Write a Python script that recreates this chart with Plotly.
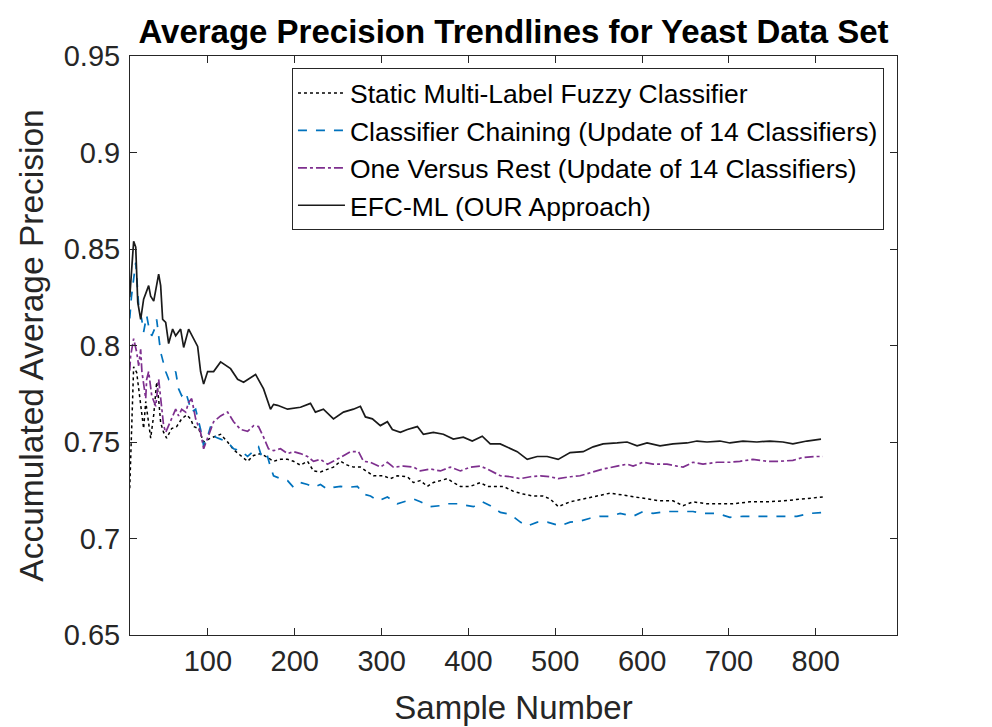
import plotly.graph_objects as go

# ---- data ----
static_x = [10, 12, 14.5, 18, 20.3, 22.6, 26, 28.4, 29.5, 31.8, 34.1, 37.6, 41, 43.3, 45.6, 49, 52.5, 58.3, 64, 69.8,
            75.5, 80.1, 83.6, 89.3, 95.1, 103, 114.6, 122.7, 129.6, 137.6, 145.7, 152.6, 160.6, 168.7, 175.6, 183.6,
            191.7, 198.6, 206.6, 214.7, 221.6, 229.6, 237.7, 244.6, 252.7, 260.7, 267.6, 275.6, 283.7, 290.6, 302.1,
            310.2, 318.2, 329.7, 336.6, 344.7, 352.7, 359.6, 367.7, 375.8, 382.6, 390.7, 402.2, 413.7, 421.7, 428.6,
            440.1, 451.6, 463.1, 474.6, 486.1, 494.1, 503.5, 517.1, 532.1, 548.2, 563.1, 578.1, 594.2, 609.1, 620.6,
            635.6, 647.2, 658.6, 674.7, 689.6, 704.6, 724.2, 743.7, 762.1, 781.6, 796.6, 808]
static_y = [0.726, 0.760, 0.789, 0.786, 0.777, 0.769, 0.757, 0.771, 0.767, 0.758, 0.752, 0.764, 0.781, 0.772, 0.760,
            0.755, 0.752, 0.757, 0.758, 0.762, 0.764, 0.762, 0.758, 0.757, 0.750, 0.752, 0.754, 0.750, 0.746, 0.743,
            0.740, 0.743, 0.744, 0.742, 0.740, 0.741, 0.741, 0.740, 0.738, 0.740, 0.735, 0.7345, 0.736, 0.737, 0.740,
            0.738, 0.737, 0.737, 0.7345, 0.7325, 0.7325, 0.731, 0.7325, 0.732, 0.729, 0.730, 0.727, 0.729, 0.730,
            0.731, 0.729, 0.727, 0.727, 0.729, 0.727, 0.727, 0.727, 0.7245, 0.723, 0.722, 0.722, 0.7205, 0.7165,
            0.719, 0.7205, 0.722, 0.7235, 0.7225, 0.7215, 0.7205, 0.7195, 0.7195, 0.717, 0.719, 0.718, 0.718, 0.718,
            0.719, 0.719, 0.7195, 0.7205, 0.721, 0.7215]

cc_x = [10, 12, 16.9, 20.3, 23.8, 26, 29.5, 31.8, 35.3, 39.9, 41, 43.3, 45.6, 46.8, 51.4, 54.8, 58.3, 62.9, 66.3,
        69.8, 74.4, 77.8, 81.3, 85.9, 91.6, 95.1, 99.7, 103.1, 108.9, 114.6, 122.7, 129.6, 137.6, 145.7, 152.6,
        158.3, 162.9, 168.7, 172.1, 175.6, 183.6, 191.7, 198.6, 206.6, 214.7, 221.6, 229.6, 237.7, 244.6, 252.7,
        260.7, 272.2, 279.1, 287.2, 296.4, 306.7, 318.2, 325.1, 336.6, 344.7, 356.2, 367.7, 375.8, 387.3, 398.8,
        405.7, 416.1, 425.3, 436.8, 448.3, 459.8, 467.9, 479.4, 490.9, 505.6, 517.1, 528.6, 540.1, 551.6, 563.1,
        574.6, 589.6, 601.1, 612.6, 628.7, 643.6, 658.6, 670.1, 686.2, 701.1, 716.1, 732.2, 747.1, 762.1, 778.2,
        793.1, 808]
cc_y = [0.814, 0.8255, 0.843, 0.8205, 0.8135, 0.807, 0.8155, 0.810, 0.805, 0.810, 0.8135, 0.8035, 0.7965, 0.7945,
        0.7865, 0.7825, 0.784, 0.7865, 0.7775, 0.774, 0.776, 0.7705, 0.7655, 0.767, 0.7565, 0.748, 0.753, 0.758,
        0.7525, 0.7515, 0.750, 0.7465, 0.7455, 0.7425, 0.7455, 0.7475, 0.741, 0.7425, 0.737, 0.7325, 0.731, 0.730,
        0.7265, 0.729, 0.728, 0.7265, 0.728, 0.7255, 0.7265, 0.727, 0.7265, 0.727, 0.723, 0.722, 0.7195, 0.7215,
        0.718, 0.719, 0.7205, 0.719, 0.7165, 0.717, 0.718, 0.718, 0.717, 0.7165, 0.719, 0.717, 0.7135, 0.7125,
        0.7085, 0.7065, 0.7085, 0.7085, 0.7065, 0.7085, 0.709, 0.7105, 0.7115, 0.7115, 0.713, 0.7115, 0.714, 0.713,
        0.714, 0.714, 0.714, 0.713, 0.713, 0.711, 0.7115, 0.7115, 0.7115, 0.7115, 0.7115, 0.713, 0.7135]

ovr_x = [10, 11, 14.5, 18, 20.3, 22.6, 24, 28.4, 29.5, 31.8, 35.3, 39.9, 43.3, 45.6, 49, 51.4, 54.8, 62.9, 66.3,
         69.8, 74.4, 77.8, 81.3, 85.9, 91.6, 95.1, 106.6, 114.6, 122.7, 129.6, 137.6, 145.7, 152.6, 158.3, 164.1,
         169.8, 175.6, 183.6, 191.7, 198.6, 206.6, 214.7, 221.6, 229.6, 237.7, 244.6, 252.7, 264.2, 273.4, 279.1,
         287.2, 298.7, 306.7, 313.6, 325.1, 336.6, 344.7, 356.2, 367.7, 379.2, 390.7, 402.2, 413.7, 421.7, 428.6,
         436.8, 448.3, 459.8, 471.3, 482.8, 494.1, 503.5, 517.1, 528.6, 543.6, 555.1, 571.2, 582.7, 589.6, 601.1,
         612.6, 628.7, 640.2, 647.2, 658.6, 670.1, 686.2, 701.1, 712.6, 727.6, 743.7, 758.6, 773.6, 785.1, 801.2, 808]
ovr_y = [0.787, 0.7945, 0.8035, 0.7965, 0.7895, 0.798, 0.7865, 0.7725, 0.7825, 0.7865, 0.774, 0.7685, 0.7825,
         0.7725, 0.7585, 0.755, 0.7585, 0.767, 0.7635, 0.767, 0.7655, 0.7705, 0.7725, 0.762, 0.755, 0.7465, 0.7605,
         0.7635, 0.7655, 0.7605, 0.7565, 0.7555, 0.7585, 0.758, 0.7525, 0.7465, 0.7455, 0.7465, 0.744, 0.745, 0.744,
         0.7425, 0.740, 0.741, 0.7385, 0.740, 0.742, 0.745, 0.745, 0.740, 0.7395, 0.737, 0.7395, 0.737, 0.7375,
         0.737, 0.735, 0.736, 0.735, 0.737, 0.735, 0.737, 0.7375, 0.736, 0.7345, 0.7325, 0.732, 0.731, 0.732,
         0.7325, 0.732, 0.731, 0.732, 0.7325, 0.7345, 0.736, 0.7375, 0.7385, 0.7375, 0.7395, 0.7385, 0.7385,
         0.7375, 0.737, 0.7395, 0.7385, 0.7395, 0.7395, 0.740, 0.741, 0.740, 0.740, 0.7405, 0.742, 0.7425, 0.7425]

efc_x = [10, 12, 14.5, 16.9, 19.2, 22.6, 26, 31.8, 34.1, 37.6, 43.3, 45.6, 47.9, 51.4, 54.8, 59.4, 62.9, 68.6, 72.1,
         77.8, 82.4, 88.2, 91.6, 95.1, 99.7, 106.6, 114.6, 120.4, 126.1, 134.2, 141.1, 154.9, 158.3, 164.1, 172.1,
         175.6, 180.2, 191.7, 206.6, 218.1, 223.8, 233, 244.6, 256.1, 267.6, 275.6, 281.4, 289.4, 298.6, 306.7,
         312.4, 321.6, 329.7, 341.2, 348.1, 359.6, 371.1, 382.6, 394.1, 404.4, 415.9, 425.1, 436.6, 448.1, 456.2,
         467.7, 479.2, 490.7, 503.3, 517.1, 532.1, 543.6, 555.1, 571.2, 582.7, 594.2, 605.7, 620.6, 635.6, 651.7,
         663.2, 674.7, 689.6, 701.1, 716.1, 732.2, 747.1, 762.1, 773.6, 789.7, 806]
efc_y = [0.825, 0.838, 0.854, 0.851, 0.8225, 0.8135, 0.824, 0.831, 0.8255, 0.823, 0.837, 0.831, 0.8135, 0.812,
         0.801, 0.8085, 0.805, 0.8085, 0.799, 0.8085, 0.8045, 0.7995, 0.7865, 0.780, 0.7865, 0.7865, 0.7915, 0.7895,
         0.788, 0.7825, 0.781, 0.785, 0.7825, 0.7775, 0.767, 0.7695, 0.769, 0.767, 0.768, 0.770, 0.7655, 0.767,
         0.762, 0.7655, 0.767, 0.7685, 0.763, 0.762, 0.7585, 0.7605, 0.7565, 0.755, 0.7565, 0.758, 0.754, 0.755,
         0.754, 0.7515, 0.7525, 0.7505, 0.753, 0.749, 0.749, 0.7465, 0.745, 0.741, 0.7425, 0.7425, 0.741, 0.7445,
         0.745, 0.7475, 0.749, 0.7495, 0.750, 0.748, 0.7495, 0.748, 0.749, 0.7495, 0.7505, 0.750, 0.7505, 0.7495,
         0.7505, 0.750, 0.7505, 0.750, 0.749, 0.7505, 0.7515]

series_names = ["Static Multi-Label Fuzzy Classifier",
                "Classifier Chaining (Update of 14 Classifiers)",
                "One Versus Rest (Update of 14 Classifiers)",
                "EFC-ML (OUR Approach)"]

x_ticks = [100, 200, 300, 400, 500, 600, 700, 800]
y_ticks = [0.65, 0.7, 0.75, 0.8, 0.85, 0.9, 0.95]
y_tick_text = ["0.65", "0.7", "0.75", "0.8", "0.85", "0.9", "0.95"]

for a, b in [(static_x, static_y), (cc_x, cc_y), (ovr_x, ovr_y), (efc_x, efc_y)]:
    assert len(a) == len(b), (len(a), len(b))

FONT = "Liberation Sans, Arial, Helvetica, sans-serif"
AX = "#262626"

fig = go.Figure()
styles = [
    (static_x, static_y, "#000000", "dot", 1.5),
    (cc_x, cc_y, "#0072BD", "dash", 1.7),
    (ovr_x, ovr_y, "#7E2F8E", "dashdot", 1.7),
    (efc_x, efc_y, "#1a1a1a", "solid", 1.7),
]
for (xs, ys, col, dash, w), name in zip(styles, series_names):
    fig.add_trace(go.Scatter(x=xs, y=ys, mode="lines", name=name,
                             line=dict(color=col, dash=dash, width=w)))

fig.update_layout(
    width=992, height=727,
    paper_bgcolor="white", plot_bgcolor="white",
    margin=dict(l=122, r=103, t=48, b=100, autoexpand=False),
    font=dict(family=FONT, color=AX),
    title=dict(text="<b>Average Precision Trendlines for Yeast Data Set</b>",
               font=dict(family=FONT, size=33, color="#000000"),
               x=0.5, xref="paper", xanchor="center",
               y=1 - 23 / 727, yref="container", yanchor="middle"),
    showlegend=True,
    legend=dict(x=0.983, xanchor="right", y=0.979, yanchor="top",
                bgcolor="white", bordercolor=AX, borderwidth=1,
                font=dict(family=FONT, size=26.5, color="#000000"),
                tracegroupgap=0, itemwidth=47),
)
fig.update_xaxes(range=[10.3, 893.5], tickvals=x_ticks, ticks="inside", ticklen=7, tickcolor=AX,
                 showline=True, linecolor=AX, linewidth=1, mirror="ticks",
                 showgrid=False, zeroline=False,
                 tickfont=dict(family=FONT, size=29, color=AX),
                 title=dict(text="Sample Number", font=dict(family=FONT, size=33, color=AX), standoff=20))
fig.update_yaxes(range=[0.65, 0.95], tickvals=y_ticks, ticktext=y_tick_text, ticks="inside", ticklen=7,
                 tickcolor=AX, showline=True, linecolor=AX, linewidth=1, mirror="ticks",
                 showgrid=False, zeroline=False, ticklabelstandoff=3,
                 tickfont=dict(family=FONT, size=29, color=AX),
                 title=dict(text="Accumulated Average Precision", font=dict(family=FONT, size=33.5, color=AX),
                            standoff=10))

fig.write_html("out.html")
